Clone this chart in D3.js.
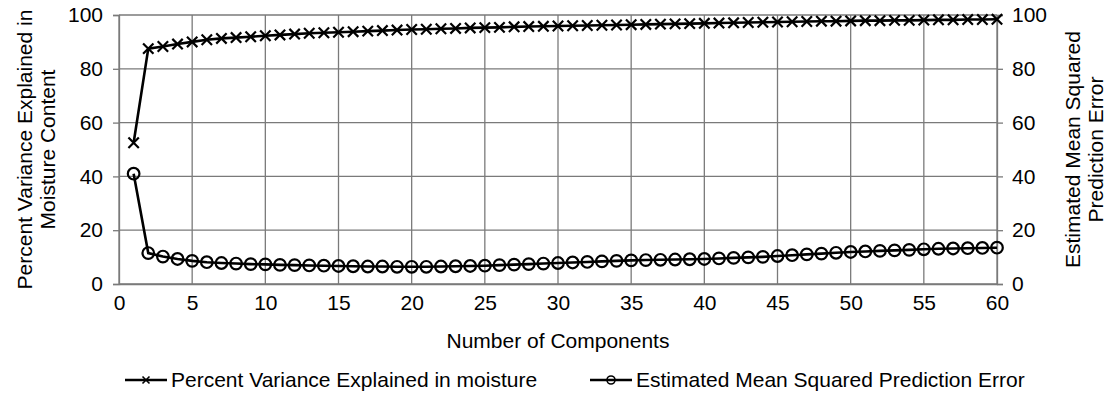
<!DOCTYPE html>
<html>
<head>
<meta charset="utf-8">
<script src="https://cdn.jsdelivr.net/npm/d3@7"></script>
<style>
  body { margin: 0; background: #fff; }
  svg { display: block; font-family: "Liberation Sans", Arial, sans-serif; }
</style>
</head>
<body>
<svg id="chart"></svg>
<script>
// number of components 1..60
const components = d3.range(1, 61);

const varianceExplained = [
  52.5, 87.5, 88.3, 89.2, 90.0, 90.8, 91.3, 91.6, 91.9, 92.3,
  92.6, 92.9, 93.2, 93.4, 93.6, 93.8, 94.0, 94.2, 94.4, 94.6,
  94.7, 94.9, 95.0, 95.2, 95.3, 95.4, 95.6, 95.7, 95.8, 95.9,
  96.0, 96.1, 96.2, 96.3, 96.4, 96.5, 96.6, 96.7, 96.8, 96.9,
  97.0, 97.1, 97.2, 97.3, 97.4, 97.5, 97.6, 97.7, 97.7, 97.8,
  97.9, 97.9, 98.0, 98.0, 98.1, 98.2, 98.2, 98.3, 98.3, 98.4
];

const msePrediction = [
  41.0, 11.5, 10.2, 9.3, 8.6, 8.1, 7.8, 7.6, 7.4, 7.3,
  7.1, 7.0, 6.9, 6.8, 6.7, 6.6, 6.5, 6.5, 6.4, 6.4,
  6.4, 6.5, 6.6, 6.7, 6.8, 7.0, 7.2, 7.4, 7.6, 7.8,
  8.0, 8.2, 8.4, 8.6, 8.8, 8.9, 9.0, 9.1, 9.2, 9.3,
  9.5, 9.7, 9.9, 10.1, 10.4, 10.7, 11.0, 11.3, 11.6, 11.9,
  12.1, 12.3, 12.5, 12.7, 12.9, 13.1, 13.2, 13.3, 13.4, 13.5
];

const xTicks = d3.range(0, 61, 5);
const yTicks = [0, 20, 40, 60, 80, 100];

const width = 1109, height = 396;
const margin = { top: 15, right: 112, bottom: 112, left: 119 };
const fontSize = 21;

const svg = d3.select('#chart')
  .attr('width', width)
  .attr('height', height);

const x = d3.scaleLinear().domain([0, 60]).range([margin.left, width - margin.right]);
const yLeft = d3.scaleLinear().domain([0, 100]).range([height - margin.bottom, margin.top]);
const yRight = d3.scaleLinear().domain([0, 100]).range([height - margin.bottom, margin.top]);

const gridColor = '#7a7a7a';

// grid
svg.append('g')
  .selectAll('line')
  .data(xTicks)
  .enter()
  .append('line')
  .attr('x1', d => x(d)).attr('x2', d => x(d))
  .attr('y1', yLeft(0)).attr('y2', yLeft(100))
  .attr('stroke', gridColor)
  .attr('stroke-width', 1.3);

svg.append('g')
  .selectAll('line')
  .data(yTicks)
  .enter()
  .append('line')
  .attr('x1', x(0)).attr('x2', x(60))
  .attr('y1', d => yLeft(d)).attr('y2', d => yLeft(d))
  .attr('stroke', gridColor)
  .attr('stroke-width', 1.3);

// axes
const bottomAxis = svg.append('g')
  .attr('transform', `translate(0,${yLeft(0)})`)
  .call(d3.axisBottom(x).tickValues(xTicks).tickSize(0).tickPadding(11));

const leftAxis = svg.append('g')
  .attr('transform', `translate(${x(0)},0)`)
  .call(d3.axisLeft(yLeft).tickValues(yTicks).tickSize(6).tickPadding(10));

const rightAxis = svg.append('g')
  .attr('transform', `translate(${x(60)},0)`)
  .call(d3.axisRight(yRight).tickValues(yTicks).tickSize(6).tickPadding(9));

[bottomAxis, leftAxis, rightAxis].forEach(a => {
  a.select('.domain').attr('stroke', gridColor).attr('stroke-width', 1.3);
  a.selectAll('.tick line').attr('stroke', gridColor).attr('stroke-width', 1.3);
  a.selectAll('.tick text')
    .style('font-size', fontSize + 'px')
    .style('font-family', '"Liberation Sans", Arial, sans-serif')
    .attr('fill', '#000');
});

// axis titles
svg.append('text')
  .attr('x', x(30))
  .attr('y', yLeft(0) + 64)
  .attr('text-anchor', 'middle')
  .style('font-size', fontSize + 'px')
  .text('Number of Components');

const plotMidY = (yLeft(0) + yLeft(100)) / 2;

const leftTitle = svg.append('text')
  .attr('transform', `translate(25,${plotMidY}) rotate(-90)`)
  .attr('text-anchor', 'middle')
  .style('font-size', fontSize + 'px');
leftTitle.append('tspan').attr('x', 0).attr('dy', '0.35em').text('Percent Variance Explained in');
leftTitle.append('tspan').attr('x', 0).attr('dy', '1.1em').text('Moisture Content');

const rightTitle = svg.append('text')
  .attr('transform', `translate(1073,${plotMidY}) rotate(-90)`)
  .attr('text-anchor', 'middle')
  .style('font-size', fontSize + 'px');
rightTitle.append('tspan').attr('x', 0).attr('dy', '0.35em').text('Estimated Mean Squared');
rightTitle.append('tspan').attr('x', 0).attr('dy', '1.1em').text('Prediction Error');

// lines
const lineLeft = d3.line().x((d, i) => x(components[i])).y(d => yLeft(d));
const lineRight = d3.line().x((d, i) => x(components[i])).y(d => yRight(d));

svg.append('path')
  .datum(varianceExplained)
  .attr('d', lineLeft)
  .attr('fill', 'none')
  .attr('stroke', '#000')
  .attr('stroke-width', 2.6);

svg.append('path')
  .datum(msePrediction)
  .attr('d', lineRight)
  .attr('fill', 'none')
  .attr('stroke', '#000')
  .attr('stroke-width', 2.6);

// markers
const cross = (sel, s) => sel.append('path')
  .attr('d', `M${-s},${-s}L${s},${s}M${-s},${s}L${s},${-s}`)
  .attr('stroke', '#000')
  .attr('stroke-width', 2.2)
  .attr('fill', 'none');

const crossG = svg.append('g');
varianceExplained.forEach((v, i) => {
  const g = crossG.append('g')
    .attr('transform', `translate(${x(components[i])},${yLeft(v)})`);
  cross(g, 5.2);
});

svg.append('g')
  .selectAll('circle')
  .data(msePrediction)
  .enter()
  .append('circle')
  .attr('cx', (d, i) => x(components[i]))
  .attr('cy', d => yRight(d))
  .attr('r', 5.8)
  .attr('fill', 'none')
  .attr('stroke', '#000')
  .attr('stroke-width', 2.2);

// legend
const legendY = 380;
const legend = svg.append('g');

const item1 = legend.append('g').attr('transform', `translate(125,${legendY})`);
item1.append('line').attr('x1', 0).attr('x2', 42).attr('y1', 0).attr('y2', 0)
  .attr('stroke', '#000').attr('stroke-width', 2.6);
cross(item1.append('g').attr('transform', 'translate(21,0)'), 3.5).attr('stroke-width', 1.6);
item1.append('text').attr('x', 46).attr('y', 0).attr('dy', '0.35em')
  .style('font-size', fontSize + 'px')
  .text('Percent Variance Explained in moisture');

const item2 = legend.append('g').attr('transform', `translate(590,${legendY})`);
item2.append('line').attr('x1', 0).attr('x2', 42).attr('y1', 0).attr('y2', 0)
  .attr('stroke', '#000').attr('stroke-width', 2.6);
item2.append('circle').attr('cx', 21).attr('cy', 0).attr('r', 4)
  .attr('fill', 'none').attr('stroke', '#000').attr('stroke-width', 1.6);
item2.append('text').attr('x', 46).attr('y', 0).attr('dy', '0.35em')
  .style('font-size', fontSize + 'px')
  .text('Estimated Mean Squared Prediction Error');
</script>
</body>
</html>
